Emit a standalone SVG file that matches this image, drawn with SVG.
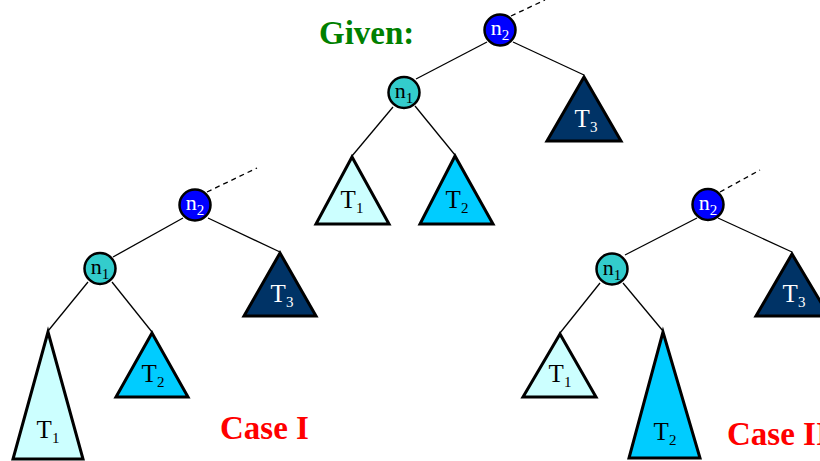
<svg xmlns="http://www.w3.org/2000/svg" width="820" height="461" viewBox="0 0 820 461">
<style>
.edge{stroke:#000;stroke-width:1.3;fill:none}
.dash{stroke:#000;stroke-width:1.3;stroke-dasharray:5,4;fill:none}
.n2 circle{fill:#0000FF;stroke:#000;stroke-width:2.5}
.n1 circle{fill:#33CCCC;stroke:#000;stroke-width:2.5}
.tri{stroke:#000;stroke-width:3;stroke-linejoin:miter}
.t1{fill:#CCFFFF}.t2{fill:#00CCFF}.t3{fill:#003366}
.lbl{font-family:"Liberation Serif",serif;text-anchor:middle}
.nl{font-size:22px}
.tl{font-size:25px}
.sub{font-size:15px}
.w{fill:#fff}.k{fill:#000}
.title{font-family:"Liberation Serif",serif;font-weight:bold;font-size:33px}
</style>
<g id="connectors">
<line class="dash" x1="511" y1="16" x2="545" y2="0"/>
<line class="edge" x1="487" y1="42" x2="416" y2="79"/>
<line class="edge" x1="513" y1="42" x2="584" y2="75"/>
<line class="edge" x1="393" y1="107" x2="352" y2="156"/>
<line class="edge" x1="415" y1="106" x2="455" y2="155"/>
<line class="dash" x1="207" y1="192" x2="257" y2="168"/>
<line class="edge" x1="183" y1="218" x2="113" y2="257"/>
<line class="edge" x1="208" y1="218" x2="280" y2="252"/>
<line class="edge" x1="88" y1="282" x2="48" y2="331"/>
<line class="edge" x1="112" y1="282" x2="152" y2="332"/>
<line class="dash" x1="720" y1="192" x2="760" y2="170"/>
<line class="edge" x1="697" y1="218" x2="625" y2="255"/>
<line class="edge" x1="718" y1="218" x2="792" y2="252"/>
<line class="edge" x1="600" y1="283" x2="560" y2="333"/>
<line class="edge" x1="623" y1="283" x2="663" y2="331"/>
</g>
<text class="title" x="319" y="44" fill="#008000">Given:</text>
<text class="title" x="220" y="439" fill="#FF0000">Case I</text>
<text class="title" x="727" y="445" fill="#FF0000">Case II</text>
<!-- Given tree -->
<g id="g-n2" class="n2"><circle cx="500" cy="30" r="15.5"/><text class="lbl nl w" x="500" y="35">n<tspan class="sub" dy="5">2</tspan></text></g>
<g id="g-n1" class="n1"><circle cx="404" cy="92.5" r="15.5"/><text class="lbl nl k" x="404" y="98">n<tspan class="sub" dy="5">1</tspan></text></g>
<g id="g-T1"><polygon class="tri t1" points="352,157 316,224 389,224"/><text class="lbl tl k" x="352" y="208">T<tspan class="sub" dy="5">1</tspan></text></g>
<g id="g-T2"><polygon class="tri t2" points="455,156 420,224 493,224"/><text class="lbl tl k" x="457" y="208">T<tspan class="sub" dy="5">2</tspan></text></g>
<g id="g-T3"><polygon class="tri t3" points="584,77 547,141 621,141"/><text class="lbl tl w" x="586" y="127">T<tspan class="sub" dy="5">3</tspan></text></g>
<!-- Case I tree -->
<g id="c1-n2" class="n2"><circle cx="195" cy="205" r="15.5"/><text class="lbl nl w" x="195" y="210">n<tspan class="sub" dy="5">2</tspan></text></g>
<g id="c1-n1" class="n1"><circle cx="100" cy="268.5" r="15.5"/><text class="lbl nl k" x="100" y="274">n<tspan class="sub" dy="5">1</tspan></text></g>
<g id="c1-T1"><polygon class="tri t1" points="48,332 13,459 83,459"/><text class="lbl tl k" x="48" y="438">T<tspan class="sub" dy="5">1</tspan></text></g>
<g id="c1-T2"><polygon class="tri t2" points="152,333 116,397 188,397"/><text class="lbl tl k" x="153" y="382">T<tspan class="sub" dy="5">2</tspan></text></g>
<g id="c1-T3"><polygon class="tri t3" points="280,253 244,316 316,316"/><text class="lbl tl w" x="282" y="302">T<tspan class="sub" dy="5">3</tspan></text></g>
<!-- Case II tree -->
<g id="c2-n2" class="n2"><circle cx="708" cy="204.5" r="15.5"/><text class="lbl nl w" x="708" y="209.5">n<tspan class="sub" dy="5">2</tspan></text></g>
<g id="c2-n1" class="n1"><circle cx="612" cy="269" r="15.5"/><text class="lbl nl k" x="612" y="274.5">n<tspan class="sub" dy="5">1</tspan></text></g>
<g id="c2-T1"><polygon class="tri t1" points="560,334 523,397 596,397"/><text class="lbl tl k" x="560" y="382">T<tspan class="sub" dy="5">1</tspan></text></g>
<g id="c2-T2"><polygon class="tri t2" points="663,332 629,458 700,458"/><text class="lbl tl k" x="665" y="440">T<tspan class="sub" dy="5">2</tspan></text></g>
<g id="c2-T3"><polygon class="tri t3" points="792,254 756,316 829,316"/><text class="lbl tl w" x="794" y="302">T<tspan class="sub" dy="5">3</tspan></text></g>
</svg>
